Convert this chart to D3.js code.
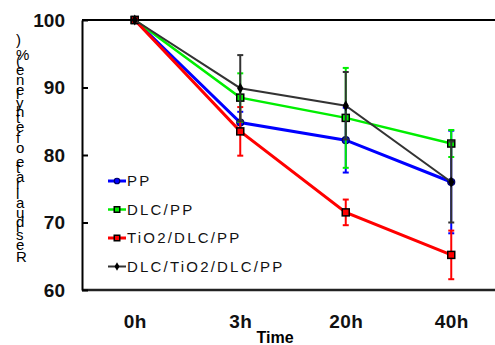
<!DOCTYPE html>
<html>
<head>
<meta charset="utf-8">
<script src="https://cdn.jsdelivr.net/npm/d3@7"></script>
<style>
  body { margin: 0; background: #fff; }
</style>
</head>
<body>
<svg></svg>
<script>
    // data
    categories = ["0h", "3h", "20h", "40h"];
    seriesNames = ["PP", "DLC/PP", "TiO2/DLC/PP", "DLC/TiO2/DLC/PP"];
    ppValues = [100, 84.8, 82.2, 76.0];
    ppErrors = [0, 1.6, 4.8, 7.6];
    dlcValues = [100, 88.5, 85.5, 81.7];
    dlcErrors = [0, 3.6, 7.4, 2.0];
    tioValues = [100, 83.5, 71.5, 65.2];
    tioErrors = [0, 3.6, 1.9, 3.6];
    multiValues = [100, 89.9, 87.3, 76.0];
    multiErrors = [0, 4.9, 5.0, 6.0];
    yTicks = [60, 70, 80, 90, 100];
    yTitle = "Residual rate of ethylene(%)";
    xTitle = "Time";

    styles = [
        {color: "#0000ff", width: 3, shape: "circle", stroke: "#000066"},
        {color: "#00ee00", width: 2.5, shape: "square", stroke: "#000"},
        {color: "#ff0000", width: 3, shape: "square", stroke: "#000"},
        {color: "#333333", width: 2, shape: "diamond", stroke: "#000"}
    ];
    series = [
        {name: seriesNames[0], values: ppValues, errors: ppErrors},
        {name: seriesNames[1], values: dlcValues, errors: dlcErrors},
        {name: seriesNames[2], values: tioValues, errors: tioErrors},
        {name: seriesNames[3], values: multiValues, errors: multiErrors}
    ];

    svg = d3.select("svg").attr("width", 495).attr("height", 345);

    xs = d3.scalePoint().domain(categories).range([82, 504]).padding(0.5);
    ys = d3.scaleLinear().domain([60, 100]).range([290, 20]);

    //frame lines top and bottom
    svg.append("line").attr("x1", 82).attr("x2", 495)
        .attr("y1", ys(100)).attr("y2", ys(100))
        .attr("stroke", "#000").attr("stroke-width", 2);
    svg.append("line").attr("x1", 82).attr("x2", 495)
        .attr("y1", ys(60)).attr("y2", ys(60))
        .attr("stroke", "#222").attr("stroke-width", 2.5);

    //y axis
    yAxis = svg.append("g")
        .attr("transform", "translate(82,0)")
        .call(d3.axisLeft(ys).tickValues(yTicks).tickSizeInner(-6).tickSizeOuter(0).tickPadding(17));
    yAxis.select(".domain").attr("stroke", "#000").attr("stroke-width", 2);
    yAxis.selectAll(".tick line").attr("stroke", "#000").attr("stroke-width", 2);
    yAxis.selectAll(".tick text")
        .attr("font-family", "Liberation Sans, Arial, sans-serif")
        .attr("font-weight", "bold").attr("font-size", 19).attr("fill", "#111");

    //x axis labels only
    xAxis = svg.append("g")
        .attr("transform", "translate(0,290)")
        .call(d3.axisBottom(xs).tickSize(0).tickPadding(25));
    xAxis.select(".domain").remove();
    xAxis.selectAll(".tick text")
        .attr("font-family", "Liberation Sans, Arial, sans-serif")
        .attr("font-weight", "bold").attr("font-size", 19).attr("fill", "#111")
        .attr("letter-spacing", 0.5);

    //axis titles
    svg.append("text")
        .attr("x", 275).attr("y", 343)
        .attr("text-anchor", "middle")
        .attr("font-family", "Liberation Sans, Arial, sans-serif")
        .attr("font-weight", "bold").attr("font-size", 16)
        .text(xTitle);
    svg.append("text")
        .attr("transform", "translate(16,262) rotate(-90)")
        .attr("rotate", 90)
        .attr("font-family", "Liberation Sans, Arial, sans-serif")
        .attr("font-size", 15).attr("letter-spacing", 1.2)
        .text(yTitle);

    line = d3.line().x(function(d, i){return xs(categories[i]);}).y(function(d){return ys(d);});

    function marker(g, shape, cx, cy, s, fill, stroke) {
        if (shape == "circle") {
            g.append("circle").attr("cx", cx).attr("cy", cy).attr("r", s / 2)
                .attr("fill", fill).attr("stroke", stroke).attr("stroke-width", 1.2);
        } else if (shape == "square") {
            g.append("rect").attr("x", cx - s / 2).attr("y", cy - s / 2)
                .attr("width", s).attr("height", s)
                .attr("fill", fill).attr("stroke", stroke).attr("stroke-width", 1.5);
        } else {
            g.append("path")
                .attr("d", d3.symbol().type(d3.symbolDiamond).size(s * s * 0.7)())
                .attr("transform", "translate(" + cx + "," + cy + ")")
                .attr("fill", "#000");
        }
    }

    //series: error bars, lines, markers
    series.forEach(function(s, k) {
        st = styles[k];
        g = svg.append("g");
        s.values.forEach(function(v, i) {
            if (s.errors[i] == 0) return;
            x = xs(categories[i]);
            g.append("line").attr("x1", x).attr("x2", x)
                .attr("y1", ys(v + s.errors[i])).attr("y2", ys(v - s.errors[i]))
                .attr("stroke", st.color).attr("stroke-width", 2);
            [v + s.errors[i], v - s.errors[i]].forEach(function(e) {
                g.append("line").attr("x1", x - 3).attr("x2", x + 3)
                    .attr("y1", ys(e)).attr("y2", ys(e))
                    .attr("stroke", st.color).attr("stroke-width", 2);
            });
        });
        g.append("path").datum(s.values)
            .attr("d", line).attr("fill", "none")
            .attr("stroke", st.color).attr("stroke-width", st.width);
        s.values.forEach(function(v, i) {
            marker(g, st.shape, xs(categories[i]), ys(v), 7, st.color, st.stroke);
        });
    });

    //legend
    legend = svg.append("g").attr("transform", "translate(108,181)");
    series.forEach(function(s, k) {
        st = styles[k];
        row = legend.append("g").attr("transform", "translate(0," + (k * 28.5) + ")");
        row.append("line").attr("x1", 0).attr("x2", 18).attr("y1", 0).attr("y2", 0)
            .attr("stroke", st.color).attr("stroke-width", st.width);
        marker(row, st.shape, 9, 0, 5.5, st.color, st.stroke);
        row.append("text").attr("x", 19).attr("y", 0).attr("dy", "0.36em")
            .attr("font-family", "Liberation Sans, Arial, sans-serif")
            .attr("font-size", 15).attr("letter-spacing", 2.2).attr("fill", "#111")
            .text(s.name);
    });
</script>
</body>
</html>
